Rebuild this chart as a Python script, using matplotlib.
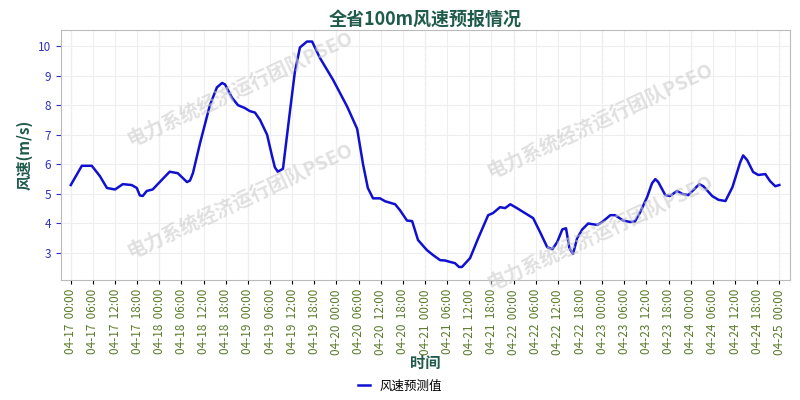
import numpy as np
import matplotlib.pyplot as plt

plt.rcParams['font.family'] = ['Noto Sans CJK SC', 'DejaVu Sans']

# hours since 04-17 00:00
hours = [0, 3, 5.7, 7.9, 9.8, 12, 14.1, 16.5, 17.9, 18.7, 19.5, 20.6, 22.2, 24.1, 26.8, 29,
         31.5, 32.3, 33.1, 35, 37.7, 39.6, 41, 41.8, 43.7, 45.3, 47.2, 48.5, 49.9, 51.3,
         53.2, 54.5, 55.3, 56.1, 57.5, 59.4, 60.7, 62.1, 64, 65.4, 67.5, 71.1, 74.9, 77.6,
         79.2, 80.5, 81.9, 83.8, 85.2, 87.9, 89.2, 91.1, 92.5, 94.1, 96.5, 98.2, 100.1,
         101.4, 102.8, 104.1, 105.2, 106, 108.2, 110.4, 113.1, 114.4, 116.3, 117.7, 119.1,
         120.9, 123.1, 125.3, 127.2, 129.1, 130.5, 131.8, 133.2, 134.2, 135.1, 136.1,
         137.2, 138.6, 140.2, 142.7, 144, 146.2, 147.5, 149.7, 151.6, 152.9, 154.3, 156.2,
         157.5, 158.4, 159.2, 161.1, 162.4, 164.3, 165.7, 167.3, 168.7, 170.3, 171.4,
         173.8, 175.5, 177.4, 179.3, 181.4, 182.2, 183.3, 184.9, 186.3, 188.2, 189.5,
         190.9, 192]
speed = [5.3, 5.95, 5.95, 5.6, 5.2, 5.15, 5.33, 5.3, 5.2, 4.95, 4.93, 5.1, 5.15, 5.4, 5.75,
         5.7, 5.4, 5.45, 5.7, 6.7, 8.0, 8.6, 8.75, 8.7, 8.25, 8.0, 7.9, 7.8, 7.75, 7.5,
         7.0, 6.3, 5.9, 5.75, 5.85, 7.8, 9.1, 9.95, 10.15, 10.15, 9.6, 8.85, 7.95, 7.2,
         6.0, 5.2, 4.85, 4.85, 4.75, 4.65, 4.45, 4.1, 4.08, 3.44, 3.1, 2.93, 2.76,
         2.75, 2.7, 2.66, 2.53, 2.53, 2.83, 3.5, 4.28, 4.35, 4.55, 4.52, 4.65,
         4.52, 4.35, 4.18, 3.7, 3.2, 3.13, 3.37, 3.8, 3.84, 3.17, 2.97,
         3.5, 3.8, 4.0, 3.95, 4.05, 4.28, 4.28, 4.1, 4.05, 4.07, 4.38, 4.9,
         5.36, 5.5, 5.4, 4.96, 4.93, 5.1, 5.0, 4.96, 5.13, 5.33, 5.26,
         4.93, 4.8, 4.76, 5.23, 6.07, 6.3, 6.14, 5.74, 5.64, 5.67, 5.43,
         5.26, 5.3]
days = ['04-17', '04-18', '04-19', '04-20', '04-21', '04-22', '04-23', '04-24', '04-25']
tick_hours = np.arange(0, 193, 6)
tick_labels = [days[h // 24] + '  ' + '%02d:00' % (h % 24) for h in tick_hours]

fig = plt.figure(figsize=(8, 4), dpi=100)
ax = fig.add_axes([0.076, 0.3, 0.912, 0.625])
ax.plot(hours, speed, color='#1010d0', lw=1.8, label='风速预测值')
ax.set_xlim(-2.7, 195)
ax.set_ylim(2.09, 10.54)
ax.set_xticks(tick_hours)
ax.set_xticklabels(tick_labels, rotation=90, color='#5a7a2a', fontsize=8.5)
ax.tick_params(axis='y', colors='#3030c0', labelsize=8.5)
ax.tick_params(axis='x', length=3)
ax.grid(True, color='#eeeeee', lw=0.8)
for d in np.arange(0, 193, 24):
    ax.axvline(d, color='#bbbbbb', ls='--', lw=0.8, zorder=0)
for s in ax.spines.values():
    s.set_color('#bbbbbb')
ax.set_title('全省100m风速预报情况', color='#1f5a4a', fontsize=13, fontweight='bold', pad=4)
ax.set_ylabel('风速(m/s)', color='#1f5a4a', fontsize=11, fontweight='bold')
ax.set_xlabel('时间', color='#1f5a4a', fontsize=11, fontweight='bold', labelpad=0)
fig.legend(loc='lower center', bbox_to_anchor=(0.5, -0.01), frameon=False, fontsize=9,
           handlelength=1.0)

# watermarks (kept inside the axes area)
for x, y in [(0.3, 0.78), (0.3, 0.5), (0.75, 0.7), (0.75, 0.42)]:
    fig.text(x, y, '电力系统经济运行团队PSEO', fontsize=14, color='#cccccc', alpha=0.6,
             rotation=25, ha='center', va='center', fontweight='bold')

fig.savefig('out.png')
